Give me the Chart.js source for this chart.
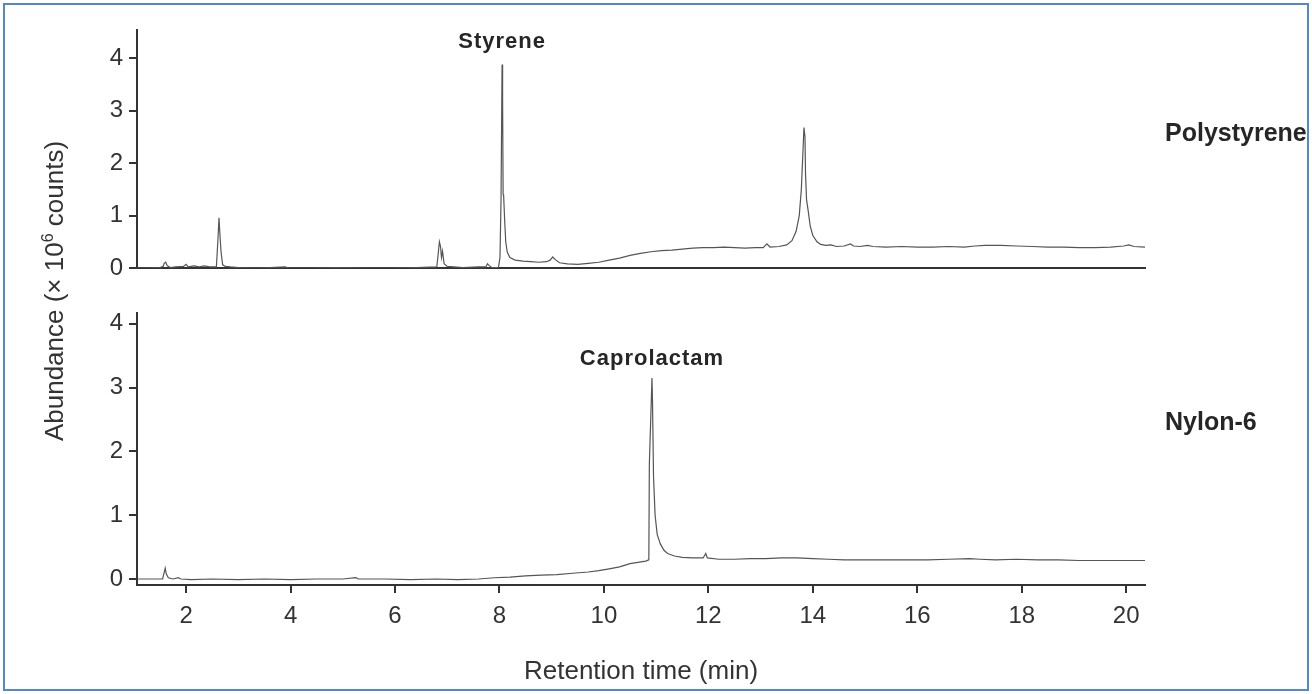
<!DOCTYPE html>
<html>
<head>
<meta charset="utf-8">
<script src="https://cdn.jsdelivr.net/npm/chart.js@4.4.1/dist/chart.umd.min.js"></script>
<style>
html,body{margin:0;padding:0;background:#fff;}
#wrap{position:relative;width:1312px;height:694px;overflow:hidden;background:#fff;}
#frame{position:absolute;left:3px;top:3px;width:1306px;height:688px;border:2px solid #5585d6;box-sizing:border-box;pointer-events:none;}
canvas{position:absolute;left:0;}
#c1{top:0;}
#c2{top:290px;}
#ytitle{position:absolute;left:54px;top:291px;transform:translate(-50%,-50%) rotate(-90deg);font:26px "Liberation Sans",Arial,sans-serif;color:#333;white-space:nowrap;}
#ytitle span{font-size:16px;position:relative;top:-10px;}
</style>
</head>
<body>
<div id="wrap">
  <canvas id="c1" width="1312" height="300"></canvas>
  <canvas id="c2" width="1312" height="404"></canvas>
  <div id="ytitle">Abundance (× 10<span>6</span> counts)</div>
  <div id="frame"></div>
</div>
<script>
// ---- data (retention time in min, abundance in 10^6 counts) ----
const polyTime = [1.06,1.30,1.50,1.56,1.58,1.61,1.64,1.70,1.80,1.95,2.00,2.04,2.15,2.25,2.35,2.45,2.58,2.61,2.63,2.65,2.67,2.70,2.75,2.85,3.00,3.30,3.60,3.90,3.95,4.40,4.90,5.40,5.90,6.40,6.80,6.83,6.85,6.87,6.89,6.91,6.94,7.00,7.30,7.60,7.74,7.77,7.80,7.85,7.98,8.01,8.03,8.05,8.06,8.07,8.08,8.10,8.12,8.15,8.20,8.30,8.45,8.60,8.75,8.90,8.97,9.02,9.07,9.15,9.30,9.50,9.70,9.90,10.10,10.30,10.50,10.70,10.90,11.10,11.30,11.50,11.70,11.90,12.10,12.30,12.50,12.70,12.90,13.05,13.12,13.18,13.35,13.50,13.60,13.68,13.74,13.78,13.81,13.83,13.85,13.86,13.88,13.91,13.95,14.00,14.08,14.15,14.25,14.35,14.45,14.60,14.72,14.78,14.90,15.05,15.15,15.40,15.70,16.00,16.30,16.60,16.90,17.10,17.30,17.60,17.90,18.20,18.50,18.80,19.10,19.40,19.70,19.95,20.05,20.15,20.36];
const polyAbund = [0.00,0.00,0.01,0.03,0.09,0.11,0.04,0.01,0.02,0.03,0.07,0.02,0.04,0.02,0.04,0.02,0.02,0.55,0.96,0.60,0.30,0.06,0.03,0.02,0.01,0.00,0.01,0.02,0.00,0.00,0.01,0.00,0.00,0.01,0.02,0.30,0.50,0.42,0.20,0.32,0.08,0.03,0.01,0.02,0.02,0.08,0.05,0.01,0.01,0.20,1.30,3.88,3.20,1.40,1.38,0.90,0.50,0.30,0.20,0.15,0.13,0.12,0.11,0.12,0.15,0.21,0.16,0.10,0.08,0.07,0.09,0.11,0.15,0.19,0.24,0.28,0.31,0.33,0.34,0.36,0.38,0.39,0.39,0.40,0.39,0.38,0.39,0.39,0.46,0.40,0.41,0.44,0.52,0.70,1.00,1.50,2.20,2.68,2.50,1.80,1.30,1.10,0.80,0.62,0.50,0.45,0.43,0.44,0.41,0.42,0.46,0.42,0.41,0.43,0.41,0.40,0.41,0.40,0.40,0.41,0.40,0.42,0.43,0.43,0.42,0.41,0.40,0.40,0.39,0.39,0.40,0.42,0.44,0.41,0.40];

const nylonTime = [1.06,1.40,1.55,1.58,1.60,1.62,1.66,1.75,1.85,1.90,2.10,2.50,3.00,3.50,4.00,4.50,5.00,5.25,5.30,5.80,6.30,6.80,7.20,7.60,7.90,8.20,8.50,8.80,9.10,9.40,9.70,9.90,10.10,10.30,10.50,10.65,10.80,10.86,10.87,10.90,10.92,10.93,10.95,10.98,11.02,11.08,11.15,11.22,11.35,11.50,11.70,11.90,11.95,11.98,12.20,12.50,12.80,13.10,13.40,13.70,14.00,14.30,14.60,15.00,15.40,15.80,16.20,16.60,17.00,17.20,17.50,17.90,18.30,18.70,19.10,19.50,19.90,20.36];
const nylonAbund = [0.00,0.00,0.00,0.10,0.17,0.08,0.02,0.00,0.02,0.00,-0.01,0.00,-0.01,0.00,-0.01,0.00,0.00,0.02,0.00,0.00,-0.01,0.00,-0.01,0.00,0.02,0.03,0.05,0.06,0.07,0.09,0.11,0.13,0.16,0.19,0.24,0.26,0.28,0.30,1.80,2.60,3.15,2.80,1.60,1.00,0.70,0.55,0.45,0.40,0.36,0.34,0.33,0.33,0.40,0.33,0.31,0.31,0.32,0.32,0.33,0.33,0.32,0.31,0.30,0.30,0.30,0.30,0.30,0.31,0.32,0.31,0.30,0.31,0.30,0.30,0.29,0.29,0.29,0.29];

const xTickValues = [2,4,6,8,10,12,14,16,18,20];
const yTickValues = [0,1,2,3,4];
const xRange = [1.06, 20.36];
const polyYRange = [0, 4.54];
const nylonYRange = [-0.094, 4.17];

const polyPeakLabel = ['Styrene', 8.05, 4.2];
const nylonPeakLabel = ['Caprolactam', 10.92, 3.36];
const polyPanelLabel = ['Polystyrene', 2.42];
const nylonPanelLabel = ['Nylon-6', 2.34];

// ---- drawing ----
const FONT = '"Liberation Sans", Arial, sans-serif';
const INK = '#333';

const labelPlugin = {
  id: 'peakLabels',
  afterDatasetsDraw(chart, args, o) {
    const {ctx, chartArea, scales} = chart;
    ctx.save();
    ctx.fillStyle = '#262626';
    ctx.textBaseline = 'alphabetic';
    ctx.font = 'bold 22px ' + FONT;
    ctx.letterSpacing = '1px';
    ctx.textAlign = 'center';
    ctx.fillText(o.peak[0], scales.x.getPixelForValue(o.peak[1]), scales.y.getPixelForValue(o.peak[2]));
    ctx.letterSpacing = '0px';
    ctx.font = 'bold 25px ' + FONT;
    ctx.textAlign = 'left';
    ctx.fillText(o.panel[0], chartArea.right + 20, scales.y.getPixelForValue(o.panel[1]));
    ctx.restore();
  }
};

function makeChart(canvasId, times, values, yRange, showX, pad, xHeight, peak, panel) {
  const pts = times.map((t, i) => ({x: t, y: values[i]}));
  return new Chart(document.getElementById(canvasId), {
    type: 'line',
    data: {datasets: [{data: pts, borderColor: '#555', borderWidth: 1.2, pointRadius: 0, tension: 0, fill: false}]},
    plugins: [labelPlugin],
    options: {
      responsive: false,
      animation: false,
      events: [],
      layout: {padding: pad},
      plugins: {legend: {display: false}, tooltip: {enabled: false}, peakLabels: {peak: peak, panel: panel}},
      scales: {
        x: {
          type: 'linear', min: xRange[0], max: xRange[1],
          afterBuildTicks: s => { s.ticks = xTickValues.map(v => ({value: v})); },
          afterFit: s => { s.height = xHeight; },
          ticks: {display: showX, font: {family: FONT, size: 24}, color: INK, padding: 9, maxRotation: 0, autoSkip: false},
          grid: {display: showX, drawOnChartArea: false, drawTicks: true, tickLength: 8, color: INK, lineWidth: 2},
          border: {display: true, color: INK, width: 2},
          title: {display: showX, text: 'Retention time (min)', font: {family: FONT, size: 26}, color: INK, padding: {top: 0, bottom: 4}}
        },
        y: {
          type: 'linear', min: yRange[0], max: yRange[1],
          afterBuildTicks: s => { s.ticks = yTickValues.map(v => ({value: v})); },
          afterFit: s => { s.width = 60; },
          ticks: {font: {family: FONT, size: 24}, color: INK, padding: 6},
          grid: {display: true, drawOnChartArea: false, drawTicks: true, tickLength: 8, color: INK, lineWidth: 2},
          border: {display: true, color: INK, width: 2}
        }
      }
    }
  });
}

// top panel: chart area x 137..1145, y 30..268 (canvas at page y 0)
makeChart('c1', polyTime, polyAbund, polyYRange, false, {left: 77, right: 167, top: 30, bottom: 32}, 0, polyPeakLabel, polyPanelLabel);
// bottom panel: chart area x 137..1145, y 313..585 (canvas at page y 290)
makeChart('c2', nylonTime, nylonAbund, nylonYRange, true, {left: 77, right: 167, top: 23, bottom: 3}, 106, nylonPeakLabel, nylonPanelLabel);
</script>
</body>
</html>
